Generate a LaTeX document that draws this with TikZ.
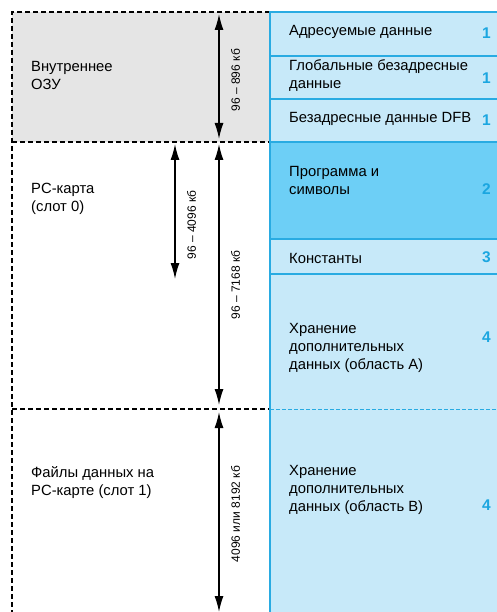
\documentclass[tikz,border=0pt]{standalone}
\usepackage{fontspec}
\setmainfont{Liberation Sans}
\usetikzlibrary{arrows.meta, positioning}
\definecolor{ramgray}{RGB}{229,229,229}
\definecolor{paleblue}{RGB}{199,233,249}
\definecolor{deepblue}{RGB}{109,207,246}
\definecolor{lineblue}{RGB}{41,171,226}
\definecolor{numblue}{RGB}{27,166,224}
\tikzset{
x=1pt, y=-1pt, % one unit is one pixel of the layout, y runs downwards
>={Latex[length=16pt,width=9pt]}, % filled arrow heads
zone/.style={line width=1.1pt, dash pattern=on 5pt off 3pt}, % dashed frame of the memory zones
rowline/.style={lineblue, line width=1.2pt}, % separators of the blue column
memtext/.style={anchor=west, align=left, inner sep=0pt, font=\fontsize{14.8}{18}\selectfont}, % texts
areanum/.style={anchor=east, inner sep=0pt, text=numblue, font=\fontsize{15.5}{18}\selectfont\bfseries}, % area numbers
sizearrow/.style={<->, line width=1.4pt}, % size arrows
sizelabel/.style={rotate=90, anchor=north, inner sep=0pt, outer ysep=12pt, font=\fontsize{12}{14}\selectfont}, % size labels
}

\begin{document}
\begin{tikzpicture}
  \useasboundingbox (0,0) rectangle (497,612);

  % memory zones
  \fill[ramgray] (12,12) rectangle (270,142);
  \draw[zone] (270,12) -- (12,12) -- (12,612);
  \draw[zone] (12,142) -- (270,142);
  \draw[zone] (12,409) -- (270,409);

  % blue column
  \fill[paleblue] (270,12) rectangle (497,612);
  \fill[deepblue] (270,142) rectangle (497,239);
  \draw[rowline] (497,12) -- (270,12) -- (270,612);
  \foreach \y in {56,99,142,239,274}
    \draw[rowline] (270,\y) -- (497,\y);
  \draw[lineblue, line width=0.9pt, dash pattern=on 4pt off 2pt] (270,409) -- (497,409);

  % zone names
  \node[memtext] (ram) at (31,75) {Внутреннее\\ОЗУ};
  \node[memtext] (slot0) at (31,199) {PC-карта\\(слот 0)};
  \node[memtext] (slot1) at (31,483) {Файлы данных на\\PC-карте (слот 1)};

  % areas
  \node[memtext] (addr) at (289,32) {Адресуемые данные};
  \node[memtext] (glob) at (289,76) {Глобальные безадресные\\данные};
  \node[memtext] (dfb) at (289,119) {Безадресные данные DFB};
  \node[memtext] (prog) at (289,180) {Программа и\\символы};
  \node[memtext] (const) at (289,258) {Константы};
  \node[memtext] (storea) at (289,348) {Хранение\\дополнительных\\данных (область А)};
  \node[memtext] (storeb) at (289,490) {Хранение\\дополнительных\\данных (область B)};

  \node[areanum] (n1) at (491,33) {1};
  \node[areanum] (n2) at (491,78) {1};
  \node[areanum] (n3) at (491,120) {1};
  \node[areanum] (n4) at (491,189) {2};
  \node[areanum] (n5) at (491,257) {3};
  \node[areanum] (n6) at (491,337) {4};
  \node[areanum] (n7) at (491,505) {4};

  % size arrows
  \coordinate (ramtop) at (219,14);
  \coordinate (rambot) at (219,139);
  \coordinate (cardtop) at (175,144);
  \coordinate (cardbot) at (175,279);
  \coordinate (alltop) at (219,144);
  \coordinate (allbot) at (219,405);
  \coordinate (filetop) at (219,412);
  \coordinate (filebot) at (219,612);

  \draw[sizearrow] (ramtop) -- (rambot) node[sizelabel, pos=0.53] {96 – 896 кб};
  \draw[sizearrow] (cardtop) -- (cardbot) node[sizelabel, pos=0.6] {96 – 4096 кб};
  \draw[sizearrow] (alltop) -- (allbot) node[sizelabel, pos=0.54] {96 – 7168 кб};
  \draw[sizearrow] (filetop) -- (filebot) node[sizelabel, pos=0.51] {4096 или 8192 кб};
\end{tikzpicture}
\end{document}
